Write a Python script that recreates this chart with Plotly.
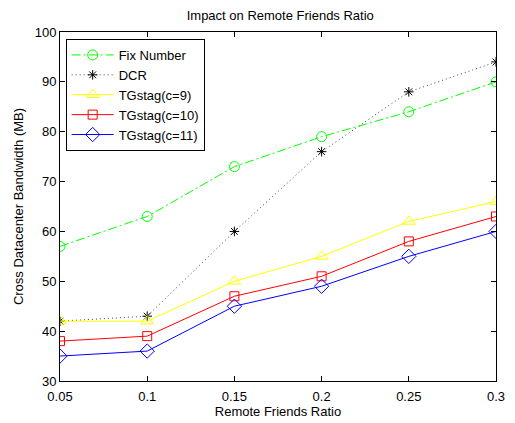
import plotly.graph_objects as go

ratios = [0.05, 0.1, 0.15, 0.2, 0.25, 0.3]
fix_number = [57, 63, 73, 79, 84, 90]
dcr = [42, 43, 60, 76, 88, 94]
tg9 = [42, 42, 50, 55, 62, 66]
tg10 = [38, 39, 47, 51, 58, 63]
tg11 = [35, 36, 45, 49, 55, 60]

x_ticks = [0.05, 0.1, 0.15, 0.2, 0.25, 0.3]
x_ticklabels = ["0.05", "0.1", "0.15", "0.2", "0.25", "0.3"]
y_ticks = [30, 40, 50, 60, 70, 80, 90, 100]

FONT = "Liberation Sans, Arial, Helvetica, sans-serif"

fig = go.Figure()
series = [
    ("Fix Number", fix_number, "#00ff00", "#00ff00", "9px,3px,2px,3px", "circle-open", 10),
    ("DCR", dcr, "#000000", "#444444", "1px,3px", "asterisk-open", 8),
    ("TGstag(c=9)", tg9, "#ffff00", "#ffff00", "solid", "triangle-up-open", 11),
    ("TGstag(c=10)", tg10, "#ff0000", "#ff0000", "solid", "square-open", 9),
    ("TGstag(c=11)", tg11, "#0000ff", "#0000ff", "solid", "diamond-open", 11),
]
for name, vals, col, line_col, dash, sym, ms in series:
    fig.add_trace(go.Scatter(
        x=ratios, y=vals, name=name, mode="lines+markers",
        line=dict(color=line_col, width=1, dash=dash),
        marker=dict(symbol=sym, size=ms, color=col, line=dict(color=col, width=1)),
    ))

axis_common = dict(
    showgrid=False, zeroline=False, showline=True, linecolor="black", linewidth=1,
    mirror="ticks", ticks="inside", ticklen=5, tickcolor="black",
    tickfont=dict(family=FONT, size=13, color="black"),
)
fig.update_xaxes(range=[0.05, 0.3], tickvals=x_ticks, ticktext=x_ticklabels,
                 ticklabelstandoff=3,
                 title=dict(text="Remote Friends Ratio", standoff=0,
                            font=dict(family=FONT, size=13, color="black")),
                 **axis_common)
fig.update_yaxes(range=[30, 100], tickvals=y_ticks,
                 title=dict(text="Cross Datacenter Bandwidth (MB)", standoff=8,
                            font=dict(family=FONT, size=13, color="black")),
                 **axis_common)

# page body has an 8px default margin, so the figure is 8px smaller than the window
fig.update_layout(
    width=507, height=415,
    margin=dict(l=49, r=10, t=24, b=37),
    paper_bgcolor="white", plot_bgcolor="white",
    title=dict(text="Impact on Remote Friends Ratio", x=0.537, xanchor="center",
               y=0.981, yanchor="middle",
               font=dict(family=FONT, size=13, color="black")),
    font=dict(family=FONT, size=13, color="black"),
    legend=dict(x=0.013, y=0.980, xanchor="left", yanchor="top",
                bordercolor="black", borderwidth=1, bgcolor="white",
                font=dict(family=FONT, size=13, color="black"),
                tracegroupgap=0, itemwidth=42),
    showlegend=True,
)

fig.write_html("out.html")
